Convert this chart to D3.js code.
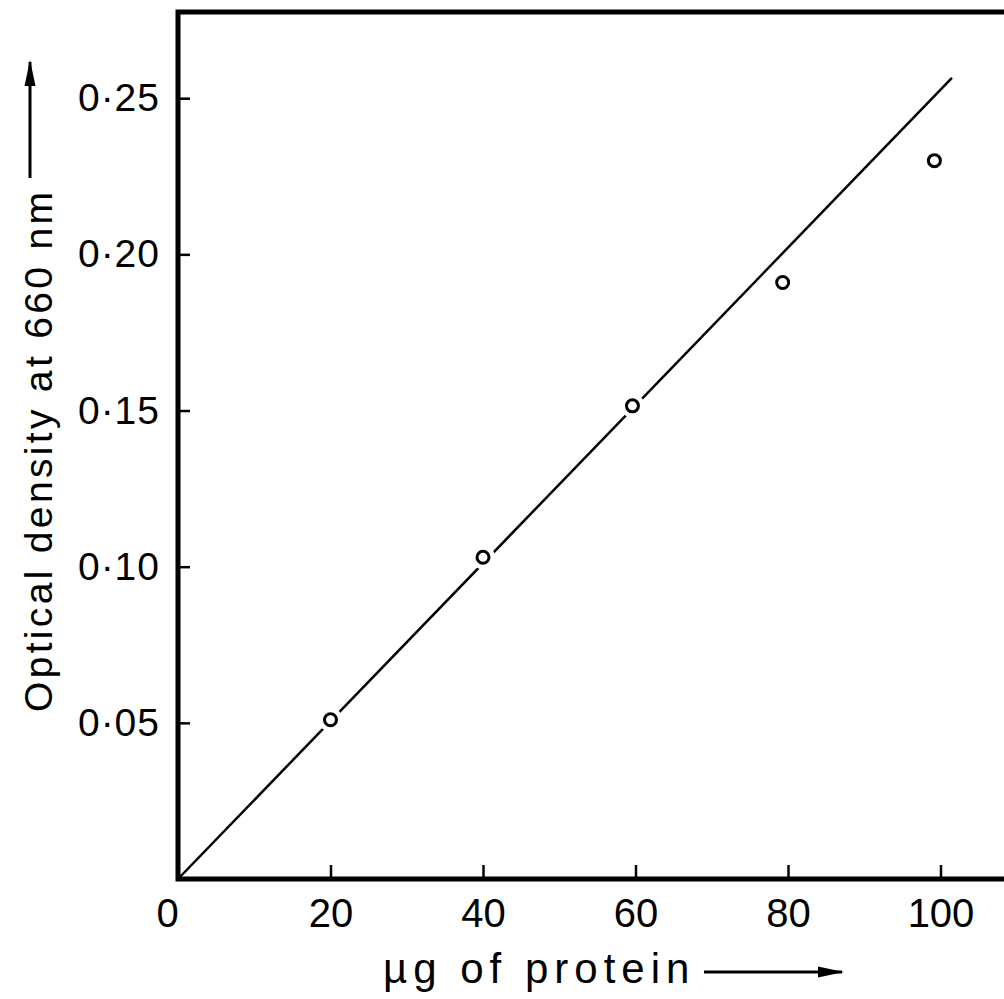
<!DOCTYPE html>
<html>
<head>
<meta charset="utf-8">
<script src="https://cdn.jsdelivr.net/npm/d3@7"></script>
<style>
  html, body { margin: 0; padding: 0; background: #fff; overflow: hidden; }
  svg { display: block; overflow: hidden; }
  text { font-family: "Liberation Sans", Arial, sans-serif; fill: #000; }
</style>
</head>
<body>
<svg id="chart" width="1004" height="999"></svg>
<script>
// ---- data ----
const proteinUg = [20, 40, 59.6, 79.3, 99.2];
const opticalDensity = [0.051, 0.103, 0.1515, 0.191, 0.230];
const fitX = [0, 101.5];
const fitY = [0, 0.2565];
const xTickValues = [0, 20, 40, 60, 80, 100];
const xTickLabels = ["0", "20", "40", "60", "80", "100"];
const yTickValues = [0.05, 0.10, 0.15, 0.20, 0.25];
const yTickLabels = ["0·05", "0·10", "0·15", "0·20", "0·25"];
const xTitle = "\u00B5g of protein";
const yTitle = "Optical density at 660 nm";

// ---- layout ----
const plotLeft = 178, plotBottom = 879, plotTop = 12;
const svg = d3.select("#chart");
const x = d3.scaleLinear().domain([0, 108.5]).range([plotLeft, plotLeft + 108.5 * 7.625]);
const y = d3.scaleLinear().domain([0, 0.2776]).range([plotBottom, plotTop]);

// frame: top, left and bottom edges (right side falls outside the picture)
svg.append("path")
  .attr("d", `M${x(120)},${y(0.2776)} L${x(0)},${y(0.2776)} L${x(0)},${y(0)} L${x(120)},${y(0)}`)
  .attr("fill", "none").attr("stroke", "#000").attr("stroke-width", 5)
  .attr("stroke-linejoin", "miter");

// x axis ticks (inward)
const xAxis = d3.axisBottom(x)
  .tickValues(xTickValues)
  .tickSize(-14)
  .tickSizeOuter(0)
  .tickPadding(30)
  .tickFormat((d, i) => xTickLabels[i]);
const gx = svg.append("g").attr("transform", `translate(0,${plotBottom})`).call(xAxis);
gx.selectAll(".domain").remove();
gx.selectAll(".tick line").attr("stroke", "#000").attr("stroke-width", 2.5)
  .filter(d => d === 0).remove();
gx.selectAll(".tick text")
  .attr("font-size", 40).attr("font-family", "Liberation Sans, Arial, sans-serif")
  .attr("dy", "0.35em").attr("y", 34)
  .attr("x", d => (d === 0 ? -11 : 0));

// y axis ticks (inward)
const yAxis = d3.axisLeft(y)
  .tickValues(yTickValues)
  .tickSize(-12)
  .tickSizeOuter(0)
  .tickPadding(18)
  .tickFormat((d, i) => yTickLabels[i]);
const gy = svg.append("g").attr("transform", `translate(${plotLeft},0)`).call(yAxis);
gy.selectAll(".domain").remove();
gy.selectAll(".tick line").attr("stroke", "#000").attr("stroke-width", 2.5);
gy.selectAll(".tick text")
  .attr("font-size", 39).attr("font-family", "Liberation Sans, Arial, sans-serif")
  .attr("letter-spacing", 1);

// fitted line
const line = d3.line().x(d => x(d[0])).y(d => y(d[1]));
svg.append("path")
  .datum(fitX.map((v, i) => [v, fitY[i]]))
  .attr("d", line)
  .attr("fill", "none").attr("stroke", "#000").attr("stroke-width", 2.5);

// points with white halo (gap in line)
const pts = proteinUg.map((v, i) => [v, opticalDensity[i]]);
svg.append("g").selectAll("circle").data(pts).join("circle")
  .attr("cx", d => x(d[0])).attr("cy", d => y(d[1])).attr("r", 12).attr("fill", "#fff");
svg.append("g").selectAll("circle").data(pts).join("circle")
  .attr("cx", d => x(d[0])).attr("cy", d => y(d[1])).attr("r", 6)
  .attr("fill", "#fff").attr("stroke", "#000").attr("stroke-width", 3);

// arrow marker
const defs = svg.append("defs");
defs.append("marker").attr("id", "arr").attr("viewBox", "0 0 26 12")
  .attr("refX", 24).attr("refY", 6).attr("markerWidth", 26).attr("markerHeight", 12)
  .attr("markerUnits", "userSpaceOnUse").attr("orient", "auto")
  .append("path").attr("d", "M0,0.5 L26,6 L0,11.5 Z").attr("fill", "#000");

// x title
svg.append("text")
  .attr("x", 383).attr("y", 983)
  .attr("font-size", 42).attr("letter-spacing", 6)
  .text(xTitle);
svg.append("line")
  .attr("x1", 704).attr("y1", 972).attr("x2", 842).attr("y2", 972)
  .attr("stroke", "#000").attr("stroke-width", 3).attr("marker-end", "url(#arr)");

// y title (rotated)
svg.append("text")
  .attr("transform", "translate(52,712) rotate(-90)")
  .attr("font-size", 39)
  .attr("textLength", 520).attr("lengthAdjust", "spacing")
  .text(yTitle);
svg.append("line")
  .attr("x1", 30).attr("y1", 178).attr("x2", 30).attr("y2", 62)
  .attr("stroke", "#000").attr("stroke-width", 3).attr("marker-end", "url(#arr)");
</script>
</body>
</html>
